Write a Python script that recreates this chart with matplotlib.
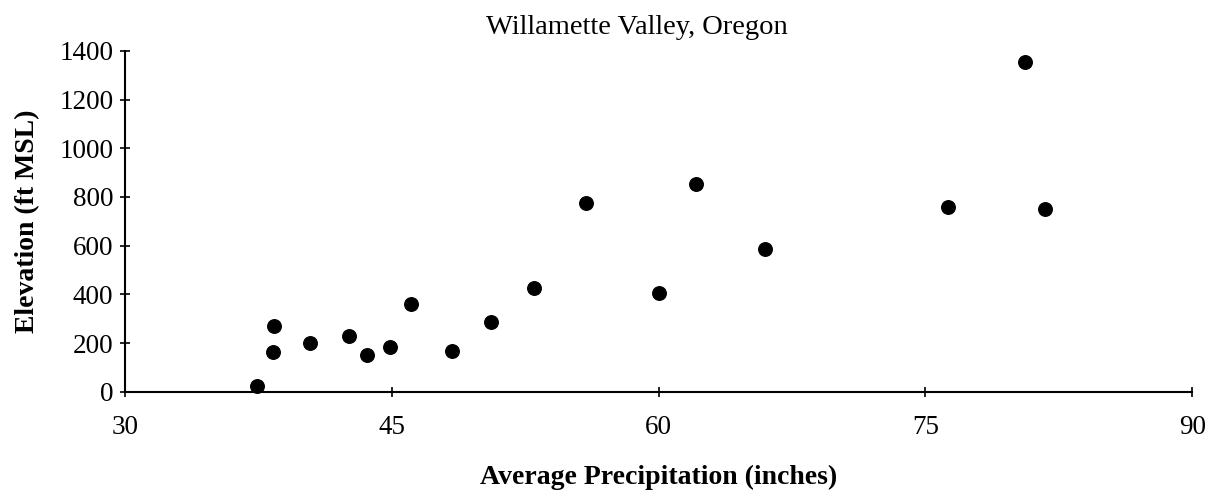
import matplotlib
matplotlib.use('Agg')
import matplotlib.pyplot as plt

# Willamette Valley stations: precipitation vs elevation
precip = [37.4, 38.3, 38.4, 40.4, 42.6, 43.6, 44.9, 46.1, 48.4, 50.6,
          53.0, 55.9, 60.0, 62.1, 66.0, 76.3, 80.6, 81.7]
elevation = [23, 164, 271, 201, 229, 151, 182, 359, 168, 286,
             427, 775, 406, 854, 586, 758, 1353, 750]

x_ticks = [30, 45, 60, 75, 90]
y_ticks = [0, 200, 400, 600, 800, 1000, 1200, 1400]

plt.rcParams['font.family'] = ['Liberation Serif', 'DejaVu Serif']

fig = plt.figure(figsize=(12.14, 4.94), dpi=100)
ax = fig.add_axes([0.103, 0.207, 0.879, 0.69])

ax.scatter(precip, elevation, s=95, color='black', zorder=3, clip_on=False)

ax.set_xlim(30, 90)
ax.set_ylim(0, 1400)
ax.set_xticks(x_ticks)
ax.set_yticks(y_ticks)

for side in ['top', 'right']:
    ax.spines[side].set_visible(False)
for side in ['left', 'bottom']:
    ax.spines[side].set_linewidth(1.5)

ax.tick_params(axis='both', direction='inout', length=7, width=1.2, labelsize=19.5)
ax.tick_params(axis='x', pad=13)
ax.tick_params(axis='y', pad=5)

ax.set_title('Willamette Valley, Oregon', fontsize=20.5, x=0.48, y=1.025)
ax.set_xlabel('Average Precipitation (inches)', fontsize=20, fontweight='bold', labelpad=18)
ax.set_ylabel('Elevation (ft MSL)', fontsize=20, fontweight='bold', labelpad=14)

fig.savefig('out.png', dpi=100)
